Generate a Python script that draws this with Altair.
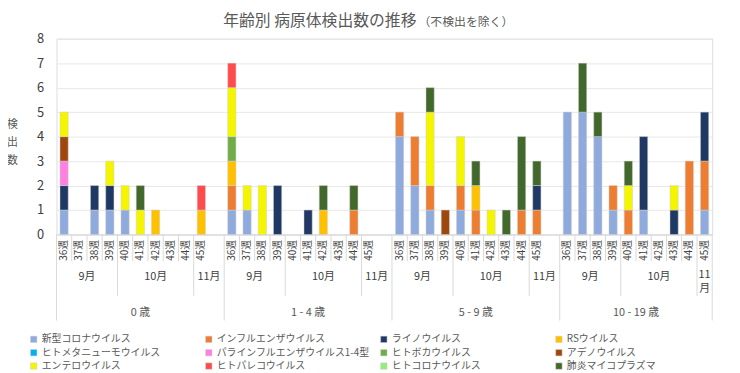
import altair as alt
import pandas as pd

FONT = "Noto Sans CJK JP"

title_main = "年齢別 病原体検出数の推移"
title_sub = "（不検出を除く）"

groups = ["0 歳", "1 - 4 歳", "5 - 9 歳", "10 - 19 歳"]
weeks = ["36週", "37週", "38週", "39週", "40週", "41週", "42週", "43週", "44週", "45週"]
week_month = ["9月", "9月", "9月", "9月", "10月", "10月", "10月", "10月", "10月", "11月"]

series = [
    "新型コロナウイルス", "インフルエンザウイルス", "ライノウイルス", "RSウイルス",
    "ヒトメタニューモウイルス", "パラインフルエンザウイルス1-4型", "ヒトボカウイルス", "アデノウイルス",
    "エンテロウイルス", "ヒトパレコウイルス", "ヒトコロナウイルス", "肺炎マイコプラズマ",
]
colors = [
    "#8faadc", "#ed7d31", "#203864", "#ffc000",
    "#00b0f0", "#ff80e0", "#70ad47", "#9e480e",
    "#f5f500", "#ff4b4b", "#92f07a", "#43682b",
]

# values per series: 4 age groups x weeks 36..45
covid     = [1,0,1,1,1,0,0,0,0,0,  1,1,0,0,0,0,0,0,0,0,  4,2,1,0,1,0,0,0,0,0,  5,5,4,1,0,1,0,0,0,1]
flu       = [0,0,0,0,0,0,0,0,0,0,  1,0,0,0,0,0,0,0,1,0,  1,2,1,0,1,1,0,0,1,1,  0,0,0,1,1,0,0,0,3,2]
rhino     = [1,0,1,1,0,0,0,0,0,0,  0,0,0,2,0,1,0,0,0,0,  0,0,0,0,0,0,0,0,0,1,  0,0,0,0,0,3,0,1,0,2]
rsv       = [0,0,0,0,0,0,1,0,0,1,  1,0,0,0,0,0,1,0,0,0,  0,0,0,0,0,1,0,0,0,0,  0,0,0,0,0,0,0,0,0,0]
hmpv      = [0,0,0,0,0,0,0,0,0,0,  0,0,0,0,0,0,0,0,0,0,  0,0,0,0,0,0,0,0,0,0,  0,0,0,0,0,0,0,0,0,0]
para      = [1,0,0,0,0,0,0,0,0,0,  0,0,0,0,0,0,0,0,0,0,  0,0,0,0,0,0,0,0,0,0,  0,0,0,0,0,0,0,0,0,0]
boca      = [0,0,0,0,0,0,0,0,0,0,  1,0,0,0,0,0,0,0,0,0,  0,0,0,0,0,0,0,0,0,0,  0,0,0,0,0,0,0,0,0,0]
adeno     = [1,0,0,0,0,0,0,0,0,0,  0,0,0,0,0,0,0,0,0,0,  0,0,0,1,0,0,0,0,0,0,  0,0,0,0,0,0,0,0,0,0]
entero    = [1,0,0,1,1,1,0,0,0,0,  2,1,2,0,0,0,0,0,0,0,  0,0,3,0,2,0,1,0,0,0,  0,0,0,0,1,0,0,1,0,0]
parecho   = [0,0,0,0,0,0,0,0,0,1,  1,0,0,0,0,0,0,0,0,0,  0,0,0,0,0,0,0,0,0,0,  0,0,0,0,0,0,0,0,0,0]
hcov      = [0,0,0,0,0,0,0,0,0,0,  0,0,0,0,0,0,0,0,0,0,  0,0,0,0,0,0,0,0,0,0,  0,0,0,0,0,0,0,0,0,0]
myco      = [0,0,0,0,0,1,0,0,0,0,  0,0,0,0,0,0,1,0,1,0,  0,0,1,0,0,1,0,1,3,1,  0,2,1,0,1,0,0,0,0,0]

series_values = [covid, flu, rhino, rsv, hmpv, para, boca, adeno, entero, parecho, hcov, myco]

# ---- build tables ----
keys = []
for gi, g in enumerate(groups):
    for w in weeks:
        keys.append(f"{g}|{w}")
    if gi < len(groups) - 1:
        keys.append(f"{g}|")

rows = []
for gi, g in enumerate(groups):
    for wi, w in enumerate(weeks):
        for si, s in enumerate(series):
            v = series_values[si][gi * len(weeks) + wi]
            if v > 0:
                rows.append({"key": f"{g}|{w}", "series": s, "count": v, "sidx": si})
df = pd.DataFrame(rows)

sep_rows = []
month_rows = []
age_rows = []
for gi, g in enumerate(groups):
    slots = [f"{g}|{w}" for w in weeks] + ([f"{g}|"] if gi < len(groups) - 1 else [])
    for wi, w in enumerate(weeks):
        if wi == 0:
            lvl = 3
        elif week_month[wi] != week_month[wi - 1]:
            lvl = 2
        else:
            lvl = 1
        sep_rows.append({"key": f"{g}|{w}", "level": lvl, "edge": 0})
    spans = []
    for wi, m in enumerate(week_month):
        if spans and spans[-1][0] == m:
            spans[-1][1].append(slots[wi])
        else:
            spans.append([m, [slots[wi]]])
    if gi < len(groups) - 1:
        spans[-1][1].append(slots[-1])
    for m, sl in spans:
        n = len(sl)
        label = m if n > 1 else "\n".join([m[:-1], m[-1]])
        if n % 2 == 1:
            month_rows.append({"key": sl[n // 2], "label": label, "bp": 0.5, "wrap": int(n == 1)})
        else:
            month_rows.append({"key": sl[n // 2 - 1], "label": label, "bp": 1.0, "wrap": 0})
    n = len(slots)
    if n % 2 == 1:
        age_rows.append({"key": slots[n // 2], "label": g, "bp": 0.5})
    else:
        age_rows.append({"key": slots[n // 2 - 1], "label": g, "bp": 1.0})
sep_rows.append({"key": keys[-1], "level": 3, "edge": 1})

sep_df = pd.DataFrame(sep_rows)
month_df = pd.DataFrame(month_rows)
age_df = pd.DataFrame(age_rows)

W, H = 663, 198
SEPC = "#d9d9d9"
TXT = "#404040"
xscale = alt.Scale(domain=keys, paddingInner=0, paddingOuter=0)
xaxis = alt.Axis(labelExpr="split(datum.value, '|')[1]", labelAngle=270,
                 labelFontSize=10, labelColor=TXT, labelPadding=5,
                 labelOverlap=False, ticks=False, domainColor=SEPC,
                 grid=False, labelFont=FONT, title=None)


def xenc(bp=0.5):
    return alt.X("key:N", scale=xscale, axis=xaxis, bandPosition=bp, title=None)


bars = alt.Chart(df).mark_bar(
    width=alt.RelativeBandSize(0.54), stroke="#d0d0d0", strokeWidth=0.5
).encode(
    x=xenc(),
    y=alt.Y("sum(count):Q", stack="zero", scale=alt.Scale(domain=[0, 8]),
            axis=alt.Axis(values=list(range(9)), title=["検", "出", "数"], titleAngle=0,
                          titleX=-45, titleY=81, titleBaseline="top", titleAlign="center",
                          titleFontSize=11, titleFontWeight="normal", titleColor="#595959",
                          titleLineHeight=18, titleFont=FONT,
                          labelFontSize=13, labelColor=TXT, labelPadding=13,
                          domain=False, ticks=False, gridColor="#e8e8e8", labelFont=FONT)),
    color=alt.Color("series:N", scale=alt.Scale(domain=series, range=colors),
                    legend=alt.Legend(orient="none", legendX=-28, legendY=299, columns=4,
                                      direction="horizontal", title=None, symbolType="square",
                                      symbolSize=42, symbolStrokeColor="#d0d0d0", symbolStrokeWidth=0.5,
                                      labelFontSize=10, labelColor="#595959", labelFont=FONT,
                                      labelLimit=220, gridAlign="all", columnPadding=9,
                                      rowPadding=3.5, labelOffset=3)),
    order=alt.Order("sidx:Q", sort="ascending"),
)


def sep_layer(level, y2, edge=0):
    return alt.Chart(sep_df).transform_filter(
        (alt.datum.level == level) & (alt.datum.edge == edge)
    ).mark_rule(color=SEPC, strokeWidth=1).encode(
        x=xenc(edge), y=alt.value(H), y2=alt.value(y2),
    )


seps = [sep_layer(1, H + 27), sep_layer(2, H + 62), sep_layer(3, H + 87), sep_layer(3, H + 87, edge=1)]


def label_layer(data, bp, y, extra=None, baseline="middle", size=11, color=TXT):
    flt = alt.datum.bp == bp
    if extra is not None:
        flt = flt & extra
    return alt.Chart(data).transform_filter(flt).mark_text(
        fontSize=size, color=color, font=FONT, baseline=baseline, lineBreak="\n", lineHeight=14
    ).encode(
        x=xenc(bp), y=alt.value(y), text="label:N",
    )


month_layers = [
    label_layer(month_df, 1.0, H + 43),
    label_layer(month_df, 0.5, H + 43, alt.datum.wrap == 0),
    label_layer(month_df, 0.5, H + 35, alt.datum.wrap == 1, baseline="top"),
]
age_layers = [
    label_layer(age_df, 0.5, H + 79, color="#595959"),
    label_layer(age_df, 1.0, H + 79, color="#595959"),
]

title_df = pd.DataFrame({"t": [title_main]})
title_mark = alt.Chart(title_df).mark_text(
    fontSize=16, color="#595959", font=FONT, align="right", baseline="middle"
).encode(x=alt.value(364), y=alt.value(-18), text="t:N")

subtitle_df = pd.DataFrame({"t": [title_sub]})
subtitle = alt.Chart(subtitle_df).mark_text(
    fontSize=12, color="#595959", font=FONT, align="left", baseline="middle"
).encode(x=alt.value(366), y=alt.value(-17), text="t:N")

chart = alt.layer(bars, *seps, *month_layers, *age_layers, title_mark, subtitle).properties(
    width=W, height=H,
    autosize=alt.AutoSizeParams(type="none"),
    padding={"left": 49, "top": 29, "right": 20, "bottom": 138},
).configure_view(stroke=None).configure(background="white")

chart.save("out.html", embed_options={"renderer": "svg", "actions": False})
